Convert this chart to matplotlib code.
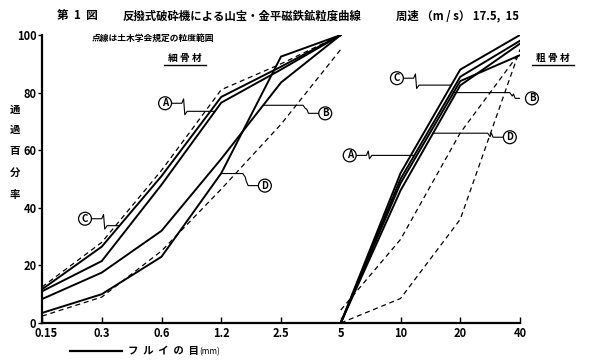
import numpy as np
import matplotlib.pyplot as plt
from matplotlib.transforms import ScaledTranslation

plt.rcParams['font.family'] = ['Noto Sans CJK JP', 'DejaVu Sans']

sieves = ['0.15', '0.3', '0.6', '1.2', '2.5', '5', '10', '20', '40']
yticks = [0, 20, 40, 60, 80, 100]

# 細骨材 0.15-5 mm (percent passing)
fine_a = [11.0, 21.5, 48, 76.5, 88, 100]
fine_b = [8.3, 17.5, 32, 57, 83.5, 100]
fine_c = [11.7, 26.5, 51, 78.5, 89, 100]
fine_d = [3.5, 10, 23, 52, 92.5, 100]
fine_upper = [12.5, 28, 53, 81, 90, 100]
fine_lower = [2.4, 9, 25, 46.5, 69, 95]

# 粗骨材 5-40 mm
coarse_a = [0, 50, 85.5, 98]
coarse_b = [0, 48.5, 84, 93]
coarse_c = [0, 52, 88, 100]
coarse_d = [0, 46, 82.5, 97]
coarse_upper = [4.5, 29, 66, 94]
coarse_lower = [0, 8.5, 36, 95]

fx = np.arange(0, 6)
cx = np.arange(5, 9)

fig = plt.figure(figsize=(6, 3.62), dpi=100)
ax = fig.add_axes([42/600, 1-323/362, 478/600, 288/362])

solid = dict(color='black', lw=1.4, solid_joinstyle='miter')
dash = dict(color='black', lw=0.9, ls=(0, (4, 3)))

for s in [fine_a, fine_b, fine_c, fine_d]:
    ax.plot(fx, s, **solid)
for s in [fine_upper, fine_lower]:
    ax.plot(fx, s, **dash)
for s in [coarse_a, coarse_b, coarse_c, coarse_d]:
    ax.plot(cx, s, **solid)
for s in [coarse_upper, coarse_lower]:
    ax.plot(cx, s, **dash)

ax.set_xlim(0, 8)
ax.set_ylim(0, 100)
ax.set_xticks(range(len(sieves)))
ax.set_xticklabels(sieves, fontsize=8, fontweight='bold')
ax.set_yticks(yticks)
ax.set_yticklabels([str(v) for v in yticks], fontsize=8, fontweight='bold')
ax.tick_params(axis='x', direction='in', length=4, width=1, pad=3)
ax.tick_params(axis='y', direction='out', length=3, width=1, pad=1)
first = ax.get_xticklabels()[0]
first.set_transform(first.get_transform() + ScaledTranslation(4/100, 0, fig.dpi_scale_trans))
for sp in ['top', 'right']:
    ax.spines[sp].set_visible(False)
for sp in ['left', 'bottom']:
    ax.spines[sp].set_linewidth(1.6)


def leader(label, xs, series, ty, lx, ly):
    # circled letter with a kinked leader line to the curve
    tx = np.interp(ty, series, xs)
    d = 1 if tx > lx else -1
    mx = lx + d * 0.28
    px = [lx, mx, mx + d*0.03, mx + d*0.05, mx + d*0.09, tx]
    py = [ly, ly, ly + 1.5, ty - 1.2, ty, ty]
    ax.plot(px, py, color='black', lw=0.8)
    ax.text(lx, ly, label, fontsize=7, fontweight='bold', ha='center', va='center',
            bbox=dict(boxstyle='circle,pad=0.15', fc='white', ec='black', lw=0.9))


leader('A', fx, fine_a, 73.5, 2.06, 76.3)
leader('B', fx, fine_b, 75.6, 4.74, 72.8)
leader('C', fx, fine_c, 33.8, 0.72, 36.2)
leader('D', fx, fine_d, 51.9, 3.73, 47.7)
leader('C', cx, coarse_c, 82.6, 5.94, 85)
leader('B', cx, coarse_b, 80, 8.2, 78)
leader('D', cx, coarse_d, 65.9, 7.83, 64.5)
leader('A', cx, coarse_a, 58.2, 5.15, 58.2)


def px(x, y):
    return x/600, 1 - y/362


fig.text(*px(77, 16), '第  1  図', fontsize=8.4, fontweight='bold', ha='center', va='center')
fig.text(*px(123, 16), '反撥式破砕機による山宝・金平磁鉄鉱粒度曲線', fontsize=8.2,
         fontweight='bold', ha='left', va='center')
fig.text(*px(396, 16), '周速 （m / s） 17.5,  15', fontsize=8.2, fontweight='bold',
         ha='left', va='center')
fig.text(*px(92, 38), '点線は土木学会規定の粒度範囲', fontsize=6.3, fontweight='bold',
         ha='left', va='center')

fig.text(*px(185, 58), '細 骨 材', fontsize=7, fontweight='bold', ha='center', va='center')
fig.text(*px(553, 58), '粗 骨 材', fontsize=7, fontweight='bold', ha='center', va='center')
for cxp in [185, 553]:
    fig.add_artist(plt.Line2D([(cxp-21)/600, (cxp+21)/600], [1-65/362, 1-65/362],
                              color='black', lw=1.0))

for ch, yy in zip('通過百分率', [110, 130, 151, 173, 195]):
    fig.text(*px(15, yy), ch, fontsize=7.5, fontweight='bold', ha='center', va='center')

fig.add_artist(plt.Line2D([70/600, 122/600], [1-351/362, 1-351/362], color='black', lw=1.6))
fig.text(*px(128, 351), 'フ  ル  イ  の  目', fontsize=7.5, fontweight='bold',
         ha='left', va='center')
fig.text(*px(199, 352), '(mm)', fontsize=6, style='italic', ha='left', va='center')

fig.savefig('out.png', dpi=100, facecolor='white')
